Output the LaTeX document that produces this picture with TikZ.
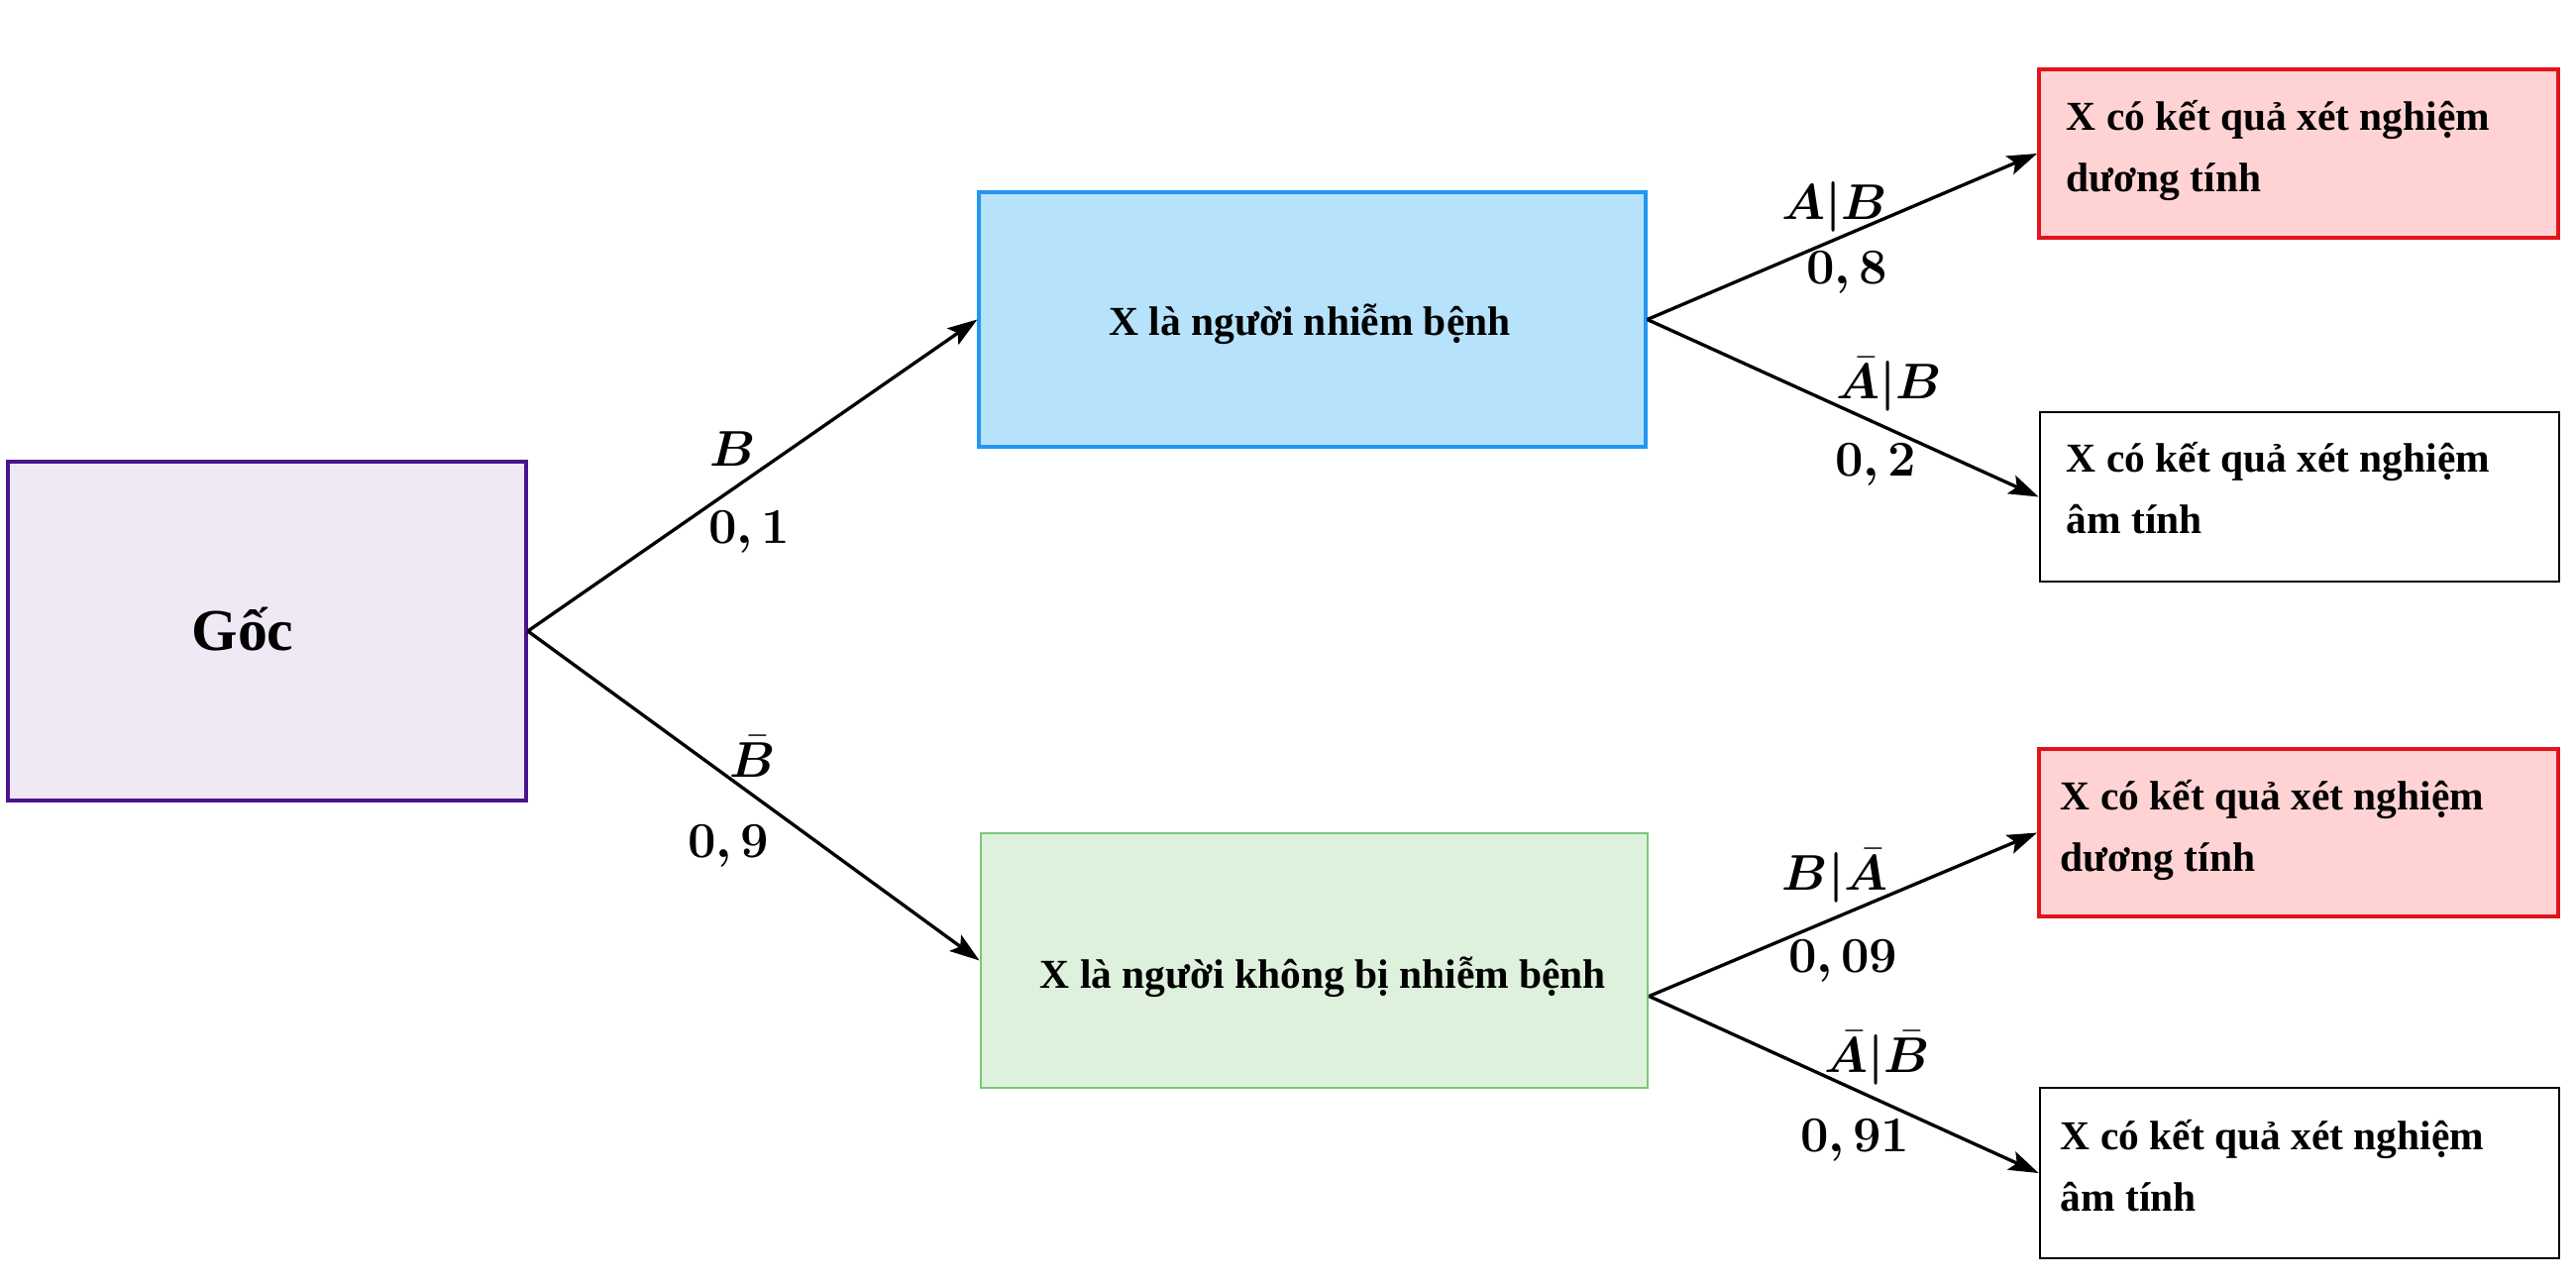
\documentclass[tikz,border=0pt]{standalone}
\usepackage{fontspec}
\setmainfont{Liberation Serif}
\usepackage{bm}
\usetikzlibrary{arrows.meta,calc}
\definecolor{rootfill}{HTML}{EFE8F5}
\definecolor{rootdraw}{HTML}{4A148C}
\definecolor{bluefill}{HTML}{B7E2FB}
\definecolor{bluedraw}{HTML}{2196F3}
\definecolor{greenfill}{HTML}{DEF1DD}
\definecolor{greendraw}{HTML}{7CC67A}
\definecolor{redfill}{HTML}{FFD3D3}
\definecolor{reddraw}{HTML}{E2131B}
\tikzset{
  box/.style={draw, rectangle, inner sep=0pt, line width=0.8pt},
  boxtext/.style={inner sep=0pt, font=\fontsize{11.8}{17.4}\selectfont\bfseries},
  leaftext/.style={boxtext, anchor=base west, align=left},
  problabel/.style={inner sep=0pt, font=\fontsize{14}{16}\selectfont},
  branch/.style={line width=0.95pt, -{Stealth[length=3mm, width=2mm, inset=0.6mm]}},
}
\begin{document}
\begin{tikzpicture}
\useasboundingbox[fill=white] (0,0) rectangle (26,-12.96);
% boxes
\node[box, fill=rootfill, draw=rootdraw, line width=1pt, minimum width=5.23cm, minimum height=3.42cm] (root) at (2.695,-6.37) {};
\node[box, fill=bluefill, draw=bluedraw, line width=0.9pt, minimum width=6.73cm, minimum height=2.57cm] (inf) at (13.245,-3.225) {};
\node[box, fill=greenfill, draw=greendraw, minimum width=6.73cm, minimum height=2.57cm] (noinf) at (13.265,-9.695) {};
\node[box, fill=redfill, draw=reddraw, line width=1.1pt, minimum width=5.24cm, minimum height=1.70cm] (r1) at (23.20,-1.55) {};
\node[box, fill=white, draw=black, minimum width=5.24cm, minimum height=1.71cm] (w1) at (23.21,-5.015) {};
\node[box, fill=redfill, draw=reddraw, line width=1.1pt, minimum width=5.24cm, minimum height=1.69cm] (r2) at (23.20,-8.405) {};
\node[box, fill=white, draw=black, minimum width=5.24cm, minimum height=1.72cm] (w2) at (23.21,-11.84) {};
% texts
\node[inner sep=0pt, font=\fontsize{17}{20}\selectfont\bfseries] (roottext) at (2.45,-6.35) {Gốc};
\node[boxtext] (inftext) at (13.22,-3.27) {X là người nhiễm bệnh};
\node[boxtext] (noinftext) at (13.355,-9.86) {X là người không bị nhiễm bệnh};
\node[leaftext] (r1text) at (20.85,-1.93) {X có kết quả xét nghiệm\\dương tính};
\node[leaftext] (w1text) at (20.85,-5.38) {X có kết quả xét nghiệm\\âm tính};
\node[leaftext] (r2text) at (20.79,-8.79) {X có kết quả xét nghiệm\\dương tính};
\node[leaftext] (w2text) at (20.79,-12.22) {X có kết quả xét nghiệm\\âm tính};
% connectors
\coordinate (gsrc) at ($(noinf.east)+(0,-0.36)$);
\draw[branch] (root.east) -- (inf.west);
\draw[branch] (root.east) -- (noinf.west);
\draw[branch] (inf.east) -- (r1.west);
\draw[branch] (inf.east) -- (w1.west);
\draw[branch] (gsrc) -- (r2.west);
\draw[branch] (gsrc) -- (w2.west);
% labels
\node[problabel] (lB) at (7.40,-4.53) {$\bm{B}$};
\node[problabel] (p1) at (7.56,-5.37) {$\bm{0,1}$};
\node[problabel] (lBb) at (7.60,-7.64) {$\bm{\bar{B}}$};
\node[problabel] (p9) at (7.35,-8.54) {$\bm{0,9}$};
\node[problabel] (lAB) at (18.52,-2.09) {$\bm{A|B}$};
\node[problabel] (p8) at (18.64,-2.75) {$\bm{0,8}$};
\node[problabel] (lAbB) at (19.07,-3.88) {$\bm{\bar{A}|B}$};
\node[problabel] (p2) at (18.93,-4.69) {$\bm{0,2}$};
\node[problabel] (lBAb) at (18.52,-8.84) {$\bm{B|\bar{A}}$};
\node[problabel] (p09) at (18.60,-9.70) {$\bm{0,09}$};
\node[problabel] (lAbBb) at (18.95,-10.68) {$\bm{\bar{A}|\bar{B}}$};
\node[problabel] (p91) at (18.72,-11.51) {$\bm{0,91}$};
\end{tikzpicture}
\end{document}
